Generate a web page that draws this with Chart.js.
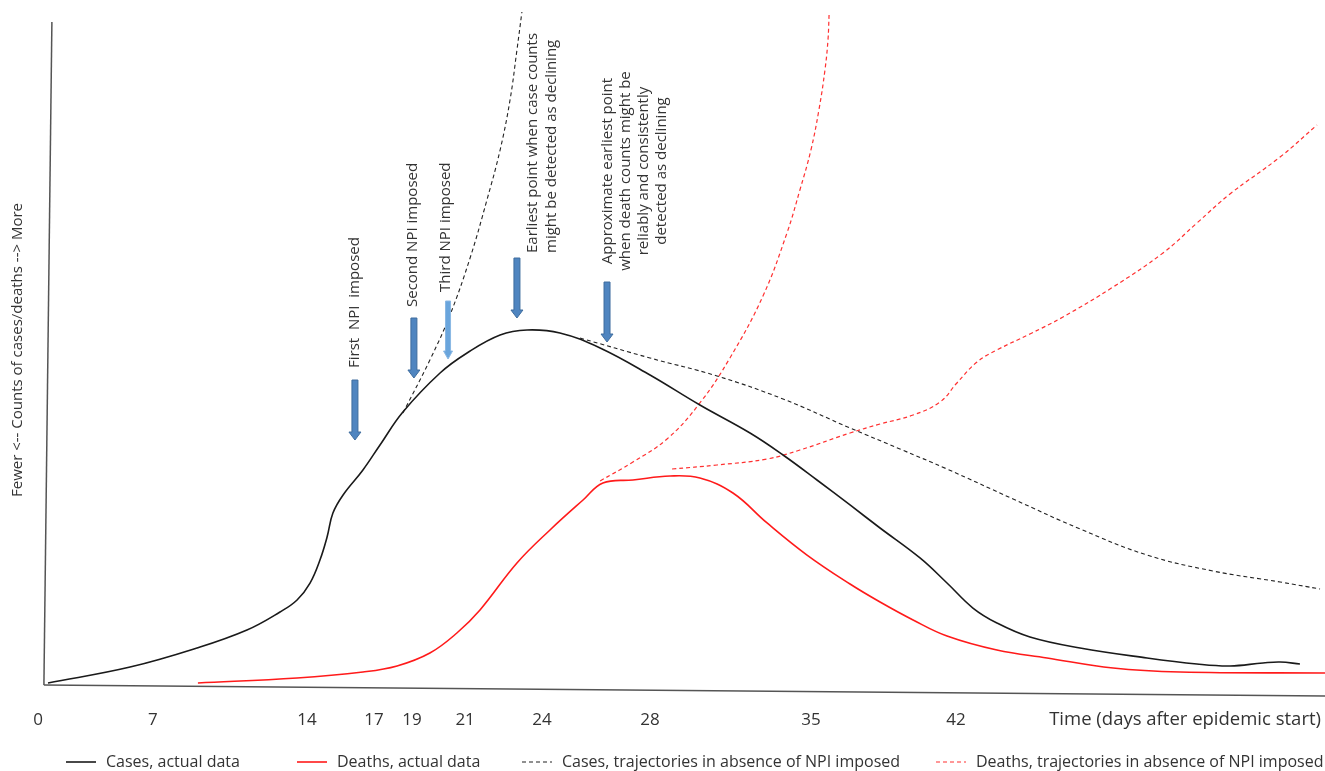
<!DOCTYPE html>
<html>
<head>
<meta charset="utf-8">
<script src="https://cdn.jsdelivr.net/npm/chart.js@4.4.0/dist/chart.umd.min.js"></script>
<style>
  html, body { margin: 0; padding: 0; background: #fff; }
  #wrap { width: 1325px; height: 771px; }
</style>
</head>
<body>
<div id="wrap"><canvas id="npiChart" width="1325" height="771"></canvas></div>
<script>
// x = schematic time position (0-60), y = relative count (0-100)
const tickPos = [0.42, 5.74, 12.87, 15.97, 17.73, 20.19, 23.75, 28.75, 36.2, 42.92];
const tickLabels = ["0", "7", "14", "17", "19", "21", "24", "28", "35", "42"];

const casesX = [0.88, 4.68, 7.78, 10.09, 11.62, 12.41, 13.01, 13.47, 13.8, 14.07, 14.54, 15.46, 16.25, 17.31, 19.03, 20.28, 21.81, 23.06, 24.58, 26.44, 28.75, 31.06, 33.38, 34.91, 36.48, 38.01, 39.4, 41.25, 42.5, 43.7, 44.81, 46.34, 48.66, 51.76, 54.07, 55.6, 57.13, 57.92, 58.84];
const casesY = [2.43, 4.71, 7.43, 10.0, 12.57, 14.29, 16.71, 20.0, 23.29, 26.71, 29.29, 32.86, 36.43, 41.14, 46.71, 49.57, 52.14, 52.86, 52.43, 50.29, 46.43, 42.14, 38.14, 35.0, 31.43, 27.86, 24.57, 20.29, 16.71, 13.14, 11.0, 9.0, 7.43, 6.0, 5.14, 4.86, 5.29, 5.43, 5.14];

const deathsX = [7.82, 12.41, 15.46, 17.04, 18.56, 19.81, 20.88, 22.59, 24.12, 25.65, 26.57, 27.96, 29.68, 31.06, 32.59, 34.17, 36.02, 38.01, 39.4, 40.93, 42.5, 44.81, 47.13, 50.19, 53.29, 60.0];
const deathsY = [2.43, 3.14, 4.0, 4.86, 6.71, 9.57, 12.86, 19.57, 24.29, 28.57, 31.0, 31.43, 32.0, 31.71, 29.57, 25.29, 20.71, 16.57, 14.0, 11.43, 9.14, 7.14, 6.0, 4.57, 4.0, 3.86];

// cases without NPI: rising branch, then slower decline branch
const casesNoNpiUpX = [17.31, 18.56, 19.49, 20.42, 21.2, 21.81, 22.27, 22.59, 22.82];
const casesNoNpiUpY = [41.0, 48.57, 55.0, 63.14, 71.43, 78.57, 85.71, 92.86, 98.29];
const casesNoNpiDownX = [25.51, 28.75, 31.85, 34.91, 38.01, 40.32, 42.5, 45.56, 48.66, 51.76, 54.81, 57.92, 59.77];
const casesNoNpiDownY = [51.71, 48.86, 46.29, 43.0, 38.86, 35.86, 33.0, 28.71, 24.43, 20.71, 18.43, 16.86, 15.86];

// deaths without NPI: steep branch, then slower branch
const deathsNoNpiUpX = [26.44, 27.96, 29.54, 31.06, 32.45, 33.98, 35.09, 35.69, 36.2, 36.57, 36.85, 36.99, 37.04];
const deathsNoNpiUpY = [31.29, 34.0, 37.29, 42.43, 48.86, 57.71, 66.71, 72.86, 78.57, 84.29, 90.0, 94.29, 97.86];
const deathsNoNpiSlowX = [29.77, 31.85, 34.17, 35.69, 38.01, 39.4, 40.93, 42.18, 42.96, 43.89, 44.81, 46.34, 47.87, 50.19, 52.5, 54.07, 55.6, 57.92, 59.63];
const deathsNoNpiSlowY = [33.0, 33.57, 34.43, 35.71, 38.14, 39.43, 40.71, 42.57, 45.29, 48.29, 50.0, 52.29, 54.71, 59.0, 63.86, 68.14, 72.29, 77.57, 82.14];

// hand drawn axes of the schematic
const yAxisX = [0.69, 1.06];
const yAxisY = [2.14, 96.86];
const xAxisX = [0.69, 60];
const xAxisY = [2.14, 0.57];

function toPoints(xs, ys) {
  return xs.map((x, i) => ({ x: x, y: ys[i] }));
}

// join two branches with a gap
function twoBranches(x1, y1, x2, y2) {
  return toPoints(x1, y1).concat([{ x: x1[x1.length - 1], y: null }], toPoints(x2, y2));
}

const annotations = [
  { lines: ["First  NPI  imposed"], x: 15.09, y: 47.43, align: "left", arrow: { top: 45.71, tip: 37.14 } },
  { lines: ["Second NPI imposed"], x: 17.78, y: 56.14, align: "left", arrow: { x: 17.82, top: 54.57, tip: 46.0 } },
  { lines: ["Third NPI imposed"], x: 19.31, y: 58.29, align: "left", arrow: { x: 19.4, top: 57.0, tip: 48.71, light: true } },
  { lines: ["Earliest point when case counts", "might be detected as declining"], x: 23.33, y: 63.86, align: "left", arrow: { x: 22.59, top: 63.14, tip: 54.57 } },
  { lines: ["Approximate earliest point", "when death counts might be", "reliably and consistently", "detected as declining"], x: 26.81, y: 75.57, align: "center", arrow: { x: 26.76, top: 59.71, tip: 51.14 } }
];

const legendSpots = [66, 297, 522, 936]; // left edge of each legend sample

const schematicPlugin = {
  id: "schematic",
  afterDatasetsDraw(chart) {
    const ctx = chart.ctx;
    const xs = chart.scales.x;
    const ys = chart.scales.y;

    // arrows
    annotations.forEach((a) => {
      const ar = a.arrow;
      const px = xs.getPixelForValue(ar.x !== undefined ? ar.x : a.x);
      const top = ys.getPixelForValue(ar.top);
      const tip = ys.getPixelForValue(ar.tip);
      const headLen = 8;
      const shaftW = ar.light ? 5 : 6;
      const headW = ar.light ? 9 : 12;
      ctx.save();
      ctx.beginPath();
      ctx.moveTo(px - shaftW / 2, top);
      ctx.lineTo(px + shaftW / 2, top);
      ctx.lineTo(px + shaftW / 2, tip - headLen);
      ctx.lineTo(px + headW / 2, tip - headLen);
      ctx.lineTo(px, tip);
      ctx.lineTo(px - headW / 2, tip - headLen);
      ctx.lineTo(px - shaftW / 2, tip - headLen);
      ctx.closePath();
      ctx.fillStyle = ar.light ? "#6aa5dc" : "#4f85c0";
      ctx.fill();
      ctx.lineWidth = 1;
      ctx.strokeStyle = ar.light ? "#8ab8e4" : "#3f6d9e";
      ctx.stroke();
      ctx.restore();
    });

    // rotated labels
    ctx.save();
    ctx.font = "15px 'Open Sans'";
    ctx.fillStyle = "#333";
    ctx.textBaseline = "middle";
    annotations.forEach((a) => {
      const px = xs.getPixelForValue(a.x);
      const py = ys.getPixelForValue(a.y);
      ctx.save();
      ctx.translate(px, py);
      ctx.rotate(-Math.PI / 2);
      ctx.textAlign = a.align;
      const step = a.lines.length > 2 ? 18 : 19;
      a.lines.forEach((t, i) => ctx.fillText(t, 0, i * step));
      ctx.restore();
    });
    ctx.restore();
  },
  afterDraw(chart) {
    const ctx = chart.ctx;
    const area = chart.chartArea;
    ctx.save();
    // x axis title sits on the tick row
    ctx.font = "18.5px 'Open Sans'";
    ctx.fillStyle = "#333";
    ctx.textAlign = "right";
    ctx.textBaseline = "middle";
    ctx.fillText("Time (days after epidemic start)", chart.width - 4, area.bottom + 20);

    // legend
    ctx.font = "16px 'Open Sans'";
    ctx.textAlign = "left";
    ctx.textBaseline = "middle";
    const y = 762;
    legendSpots.forEach((x0, i) => {
      const ds = chart.data.datasets[i];
      ctx.beginPath();
      ctx.setLineDash(ds.borderDash || []);
      ctx.lineWidth = ds.borderWidth;
      ctx.strokeStyle = ds.borderColor;
      ctx.moveTo(x0, y);
      ctx.lineTo(x0 + 30, y);
      ctx.stroke();
      ctx.setLineDash([]);
      ctx.fillStyle = "#333";
      ctx.fillText(ds.label, x0 + 40, y);
    });
    ctx.restore();
  }
};

const ctx = document.getElementById("npiChart").getContext("2d");
new Chart(ctx, {
  type: "line",
  data: {
    datasets: [
      {
        label: "Cases, actual data",
        data: toPoints(casesX, casesY),
        borderColor: "#1a1a1a",
        borderWidth: 1.6
      },
      {
        label: "Deaths, actual data",
        data: toPoints(deathsX, deathsY),
        borderColor: "#ff1a1a",
        borderWidth: 1.6
      },
      {
        label: "Cases, trajectories in absence of NPI imposed",
        data: twoBranches(casesNoNpiUpX, casesNoNpiUpY, casesNoNpiDownX, casesNoNpiDownY),
        borderColor: "#222",
        borderWidth: 1.1,
        borderDash: [4, 3]
      },
      {
        label: "Deaths, trajectories in absence of NPI imposed",
        data: twoBranches(deathsNoNpiUpX, deathsNoNpiUpY, deathsNoNpiSlowX, deathsNoNpiSlowY),
        borderColor: "#ff3030",
        borderWidth: 1.2,
        borderDash: [4, 3]
      },
      {
        label: "y axis",
        data: toPoints(yAxisX, yAxisY),
        borderColor: "#555",
        borderWidth: 1.5,
        tension: 0
      },
      {
        label: "x axis",
        data: toPoints(xAxisX, xAxisY),
        borderColor: "#555",
        borderWidth: 1.5,
        tension: 0
      }
    ]
  },
  options: {
    responsive: false,
    animation: false,
    devicePixelRatio: 1,
    layout: { padding: { left: 0, right: 0, top: 0, bottom: 31 } },
    elements: {
      point: { radius: 0 },
      line: { tension: 0.4, fill: false }
    },
    plugins: {
      legend: { display: false },
      tooltip: { enabled: false }
    },
    scales: {
      x: {
        type: "linear",
        min: 0,
        max: 60,
        grid: { display: false, drawTicks: false },
        border: { display: false },
        afterBuildTicks: (scale) => {
          scale.ticks = tickPos.map((v) => ({ value: v }));
        },
        afterFit: (scale) => { scale.height = 40; },
        ticks: {
          autoSkip: false,
          maxRotation: 0,
          padding: 10,
          color: "#333",
          font: { family: "'Open Sans'", size: 17 },
          callback: (value, index) => tickLabels[index]
        }
      },
      y: {
        type: "linear",
        min: 0,
        max: 100,
        grid: { display: false },
        border: { display: false },
        ticks: { display: false },
        afterFit: (scale) => { scale.width = 29; },
        title: {
          display: true,
          text: "Fewer <-- Counts of cases/deaths --> More",
          color: "#333",
          font: { family: "'Open Sans'", size: 15 },
          padding: { top: 9, bottom: 2 }
        }
      }
    }
  },
  plugins: [schematicPlugin]
});
</script>
</body>
</html>
